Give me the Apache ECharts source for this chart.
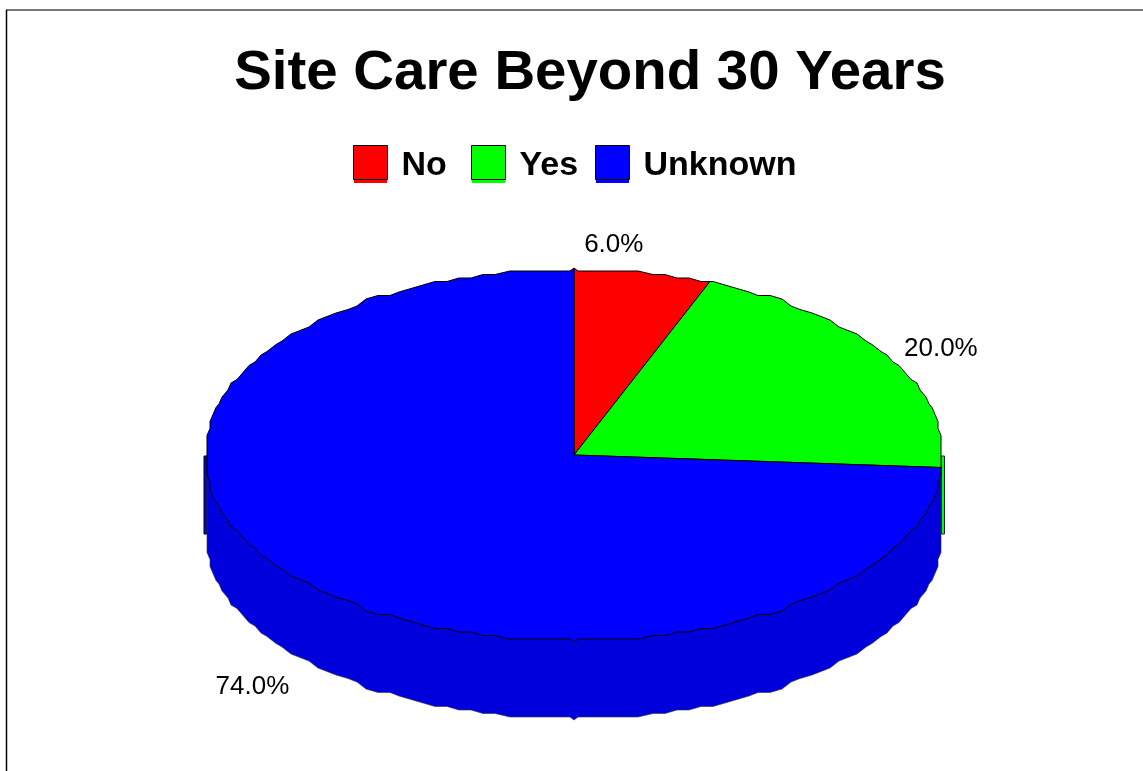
<!DOCTYPE html>
<html>
<head>
<meta charset="utf-8">
<style>html,body{margin:0;padding:0;background:#fff}#c{width:1143px;height:771px}</style>
<script src="https://cdn.jsdelivr.net/npm/echarts@6/dist/echarts.min.js"></script>
</head>
<body>
<div id="c"></div>
<script>
const categories = ['No', 'Yes', 'Unknown'];
const shares = [6.0, 20.0, 74.0];
const sliceColors = ['#ff0000', '#00ff00', '#0000ff'];
const wallColor = '#0000dc';
const titleText = 'Site Care Beyond 30 Years';

// Pie geometry (pixel layout of the flattened disc)
const CX = 574, CY = 455, RX = 367, RY = 184, DEPTH = 78, STEP_X = 3, STEP_Y = 3.5;
const SAMPLE = 2 * Math.PI / 180;
// Label offsets from the rim point at each slice's mid angle
const labelOffsets = [[-29, -29], [57, -8], [-54, 106]];
const legendLeft = [353, 471, 595];

const total = shares.reduce((a, b) => a + b, 0);
function snap(a, cy) {
  const dx = RX * Math.sin(a), dy = -RY * Math.cos(a);
  const sx = RX - Math.floor((RX - Math.abs(dx)) / STEP_X + 1e-9) * STEP_X;
  const sy = RY - Math.floor((RY - Math.abs(dy)) / STEP_Y + 1e-9) * STEP_Y;
  const sgx = Math.abs(dx) < 1e-6 ? 0 : Math.sign(dx);
  const sgy = Math.abs(dy) < 1e-6 ? 0 : Math.sign(dy);
  return [CX + sgx * sx, cy + sgy * sy];
}
// Rim going clockwise from a0 to a1, with the small pips at top and bottom
function rim(a0, a1, cy) {
  const angles = [a0];
  for (let k = Math.floor(a0 / SAMPLE + 1e-9) + 1; k * SAMPLE < a1 - 1e-9; k++) angles.push(k * SAMPLE);
  angles.push(a1);
  const pts = [];
  angles.forEach((a) => {
    const turns = a / Math.PI;
    if (Math.abs(turns - Math.round(turns)) < 1e-6) {
      const n = Math.round(turns);
      const edge = cy + (n % 2 ? RY : -RY);
      const pip = edge + (n % 2 ? 3 : -3);
      if (a > a0) pts.push([CX + (n % 2 ? 4 : -4), edge]);
      pts.push([CX, pip]);
      if (a < a1) pts.push([CX + (n % 2 ? -4 : 4), edge]);
    } else {
      pts.push(snap(a, cy));
    }
  });
  return pts;
}
function angleOf(share) { return share / total * 2 * Math.PI; }

function makeRender(idx) {
  return function (params, api) {
    const before = shares.slice(0, idx).reduce((a, b) => a + b, 0);
    const value = api.value(0);
    const a0 = angleOf(before), a1 = angleOf(before + value);
    const children = [];
    const color = api.visual('color');
    const top = [[CX, CY]].concat(rim(a0, a1, CY));
    children.push({
      type: 'polygon', z2: 5, shape: { points: top },
      style: { fill: color, stroke: '#000', lineWidth: 1 }
    });
    const mid = (a0 + a1) / 2;
    const off = labelOffsets[idx];
    children.push({
      type: 'text', z2: 10,
      style: {
        x: CX + RX * Math.sin(mid) + off[0],
        y: CY - RY * Math.cos(mid) + off[1],
        text: value.toFixed(1) + '%', fill: '#000',
        font: '26px "Liberation Sans", Arial, sans-serif',
        align: 'center', verticalAlign: 'middle'
      }
    });
    return { type: 'group', children };
  };
}

// Wall of the disc: visible front half, hidden above by the top face
function renderWall(params, api) {
  const lower = rim(Math.PI / 2, 3 * Math.PI / 2, CY + DEPTH);
  const pts = [[CX + RX, CY]].concat(lower, [[CX - RX, CY]]);
  return {
    type: 'group',
    children: [
      { type: 'rect', shape: { x: CX - RX - 3, y: CY + 1, width: 3, height: DEPTH },
        style: { fill: '#0000ff', stroke: '#000', lineWidth: 1 } },
      { type: 'rect', shape: { x: CX + RX + 0.5, y: CY + 1, width: 3, height: DEPTH },
        style: { fill: '#00ff00', stroke: '#222', lineWidth: 1 } },
      { type: 'polygon', shape: { points: pts },
        style: { fill: wallColor, stroke: '#333', lineWidth: 0.6 } }
    ]
  };
}

const legendFont = { fontFamily: '"Liberation Sans", Arial, sans-serif', fontWeight: 'bold', fontSize: 34, color: '#000' };
const legends = categories.map((c, i) => ({
  data: [c], left: legendLeft[i], top: 145, orient: 'horizontal',
  icon: 'rect', itemWidth: 34, itemHeight: 34, itemGap: 0, padding: 0,
  itemStyle: { borderColor: '#000', borderWidth: 1 },
  formatter: (n) => '{t|' + n + '}',
  textStyle: Object.assign({}, legendFont, {
    rich: { t: Object.assign({}, legendFont, { padding: [6, 0, 0, 9] }) }
  }),
  selectedMode: false
}));

const series = [{
  name: 'wall', type: 'custom', coordinateSystem: 'none', silent: true,
  data: [[total]], renderItem: renderWall, z: 1, animation: false
}].concat(categories.map((c, i) => ({
  name: c, type: 'custom', coordinateSystem: 'none', silent: true,
  itemStyle: { color: sliceColors[i] },
  encode: { value: 0 },
  data: [[shares[i]]], renderItem: makeRender(i), z: 2, animation: false
})));

const chart = echarts.init(document.getElementById('c'), null, { renderer: 'canvas' });
chart.setOption({
  animation: false,
  backgroundColor: '#fff',
  title: {
    text: titleText, left: 590, top: 41, textAlign: 'center', padding: 0,
    textStyle: { fontFamily: '"Liberation Sans", Arial, sans-serif', fontWeight: 'bold', fontSize: 56.4, color: '#000', lineHeight: 64 }
  },
  legend: legends,
  tooltip: { show: false },
  graphic: [
    { type: 'line', z: -1, shape: { x1: 6, y1: 10, x2: 1143, y2: 10 }, style: { stroke: '#777', lineWidth: 2 } },
    { type: 'line', z: -1, shape: { x1: 6.5, y1: 10, x2: 6.5, y2: 771 }, style: { stroke: '#000', lineWidth: 1.5 } },
    { type: 'rect', z: -1, shape: { x: 354, y: 179, width: 33, height: 4 }, style: { fill: sliceColors[0] } },
    { type: 'rect', z: -1, shape: { x: 472, y: 179, width: 33, height: 4 }, style: { fill: sliceColors[1] } },
    { type: 'rect', z: -1, shape: { x: 596, y: 179, width: 33, height: 4 }, style: { fill: sliceColors[2] } }
  ],
  series
});
</script>
</body>
</html>
